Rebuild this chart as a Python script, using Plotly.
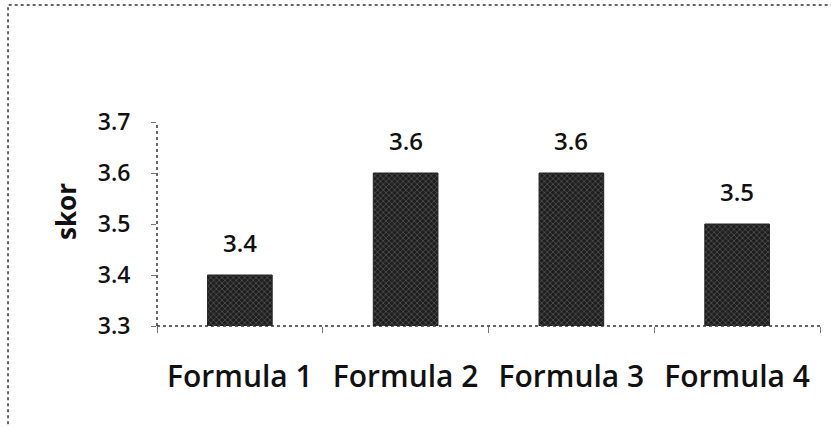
import plotly.graph_objects as go

categories = ["Formula 1", "Formula 2", "Formula 3", "Formula 4"]
values = [3.4, 3.6, 3.6, 3.5]
labels = ["3.4", "3.6", "3.6", "3.5"]
y_ticks = [3.3, 3.4, 3.5, 3.6, 3.7]

FONT = "Open Sans"

fig = go.Figure(go.Bar(
    x=categories, y=values,
    marker=dict(color="#2a2a2a", line=dict(color="#222", width=1),
                pattern=dict(shape="x", fgcolor="#a0a0a0", bgcolor="#1e1e1e",
                             size=4, solidity=0.3)),
))

for c, v, t in zip(categories, values, labels):
    fig.add_annotation(x=c, y=v, text=t, showarrow=False, yanchor="bottom", yshift=14,
                       font=dict(family=FONT, size=24, color="#111", weight=600))

fig.add_annotation(xref="paper", yref="paper", x=-0.1373, y=0.5637, text="skor",
                   textangle=-90, showarrow=False, xanchor="center", yanchor="middle",
                   font=dict(family=FONT, size=26, color="#111", weight=700))

fig.update_layout(
    width=831, height=427,
    margin=dict(l=157, r=11, t=122, b=101),
    paper_bgcolor="white", plot_bgcolor="white",
    bargap=0.61, showlegend=False,
    font=dict(family=FONT, color="#111"),
)
fig.update_xaxes(
    showgrid=False, showline=False, ticks="outside", tickson="boundaries",
    ticklen=6, tickcolor="#777", tickwidth=1,
    tickfont=dict(family=FONT, size=30, color="#111", weight=600), ticklabelstandoff=30,
)
fig.update_yaxes(
    range=[3.3, 3.7], tickvals=y_ticks, tickformat=".1f",
    showgrid=False, showline=False, zeroline=False,
    ticks="outside", ticklen=5, tickcolor="#777",
    tickfont=dict(family=FONT, size=23, color="#111", weight=600), ticklabelstandoff=16,
)
# dotted axis lines
fig.add_shape(type="line", xref="x domain", yref="y domain", x0=0, x1=0, y0=0, y1=1,
              line=dict(color="#333", width=1.5, dash="dot"))
fig.add_shape(type="line", xref="x domain", yref="y domain", x0=0, x1=1, y0=0, y1=0,
              line=dict(color="#333", width=1.5, dash="dot"), layer="below")
# dotted outer border
fig.add_shape(type="rect", xref="paper", yref="paper", x0=-0.2247, x1=1.05, y0=-0.6, y1=1.5735,
              line=dict(color="#333", width=1.5, dash="dot"))

fig.write_html("out.html", config={"displayModeBar": False},
               post_script="document.body.style.margin='0';")
